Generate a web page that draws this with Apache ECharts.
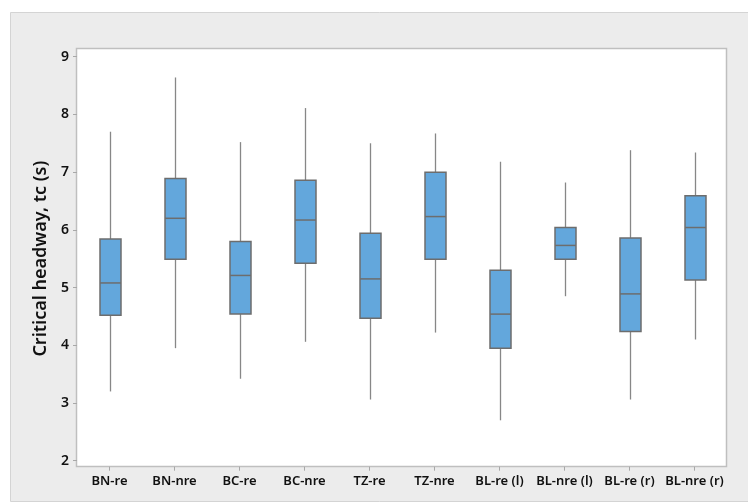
<!DOCTYPE html>
<html>
<head>
<meta charset="utf-8">
<title>Critical headway</title>
<script src="https://cdn.jsdelivr.net/npm/echarts@6/dist/echarts.min.js"></script>
<style>
  html, body { margin: 0; padding: 0; background: #ffffff; }
  #chart { width: 748px; height: 503px; }
</style>
</head>
<body>
<div id="chart"></div>
<script>
// Site / movement groups
var categories = ['BN-re', 'BN-nre', 'BC-re', 'BC-nre', 'TZ-re', 'TZ-nre', 'BL-re (l)', 'BL-nre (l)', 'BL-re (r)', 'BL-nre (r)'];

// Five-number summaries of critical headway (s)
var lowWhisker  = [3.20, 3.95, 3.42, 4.06, 3.06, 4.22, 2.70, 4.85, 3.06, 4.10];
var q1          = [4.52, 5.49, 4.54, 5.42, 4.47, 5.49, 3.95, 5.49, 4.24, 5.13];
var median      = [5.08, 6.20, 5.21, 6.17, 5.15, 6.23, 4.54, 5.73, 4.89, 6.04];
var q3          = [5.84, 6.89, 5.80, 6.86, 5.94, 7.00, 5.30, 6.04, 5.86, 6.59];
var highWhisker = [7.70, 8.64, 7.52, 8.11, 7.50, 7.67, 7.18, 6.82, 7.38, 7.34];

// Y-axis ticks
var yTicks = [2, 3, 4, 5, 6, 7, 8, 9];

var boxData = categories.map(function (c, i) {
  return [i, lowWhisker[i], q1[i], median[i], q3[i], highWhisker[i]];
});

var FONT = '"Noto Sans", "Open Sans", sans-serif';
var BOX_W = 21;

// Box with plain whiskers (no end caps)
function renderBox(params, api) {
  var x = api.value(0);
  var pLow = api.coord([x, api.value(1)]);
  var pQ1 = api.coord([x, api.value(2)]);
  var pMed = api.coord([x, api.value(3)]);
  var pQ3 = api.coord([x, api.value(4)]);
  var pHigh = api.coord([x, api.value(5)]);
  var cx = Math.round(pMed[0]) + 0.5;
  var half = BOX_W / 2;
  var whisker = { stroke: '#878787', lineWidth: 1.3 };
  var edge = '#6d6d6d';
  return {
    type: 'group',
    children: [
      { type: 'line', shape: { x1: cx, y1: pLow[1], x2: cx, y2: pQ1[1] }, style: whisker },
      { type: 'line', shape: { x1: cx, y1: pQ3[1], x2: cx, y2: pHigh[1] }, style: whisker },
      {
        type: 'rect',
        shape: { x: cx - half, y: pQ3[1], width: BOX_W, height: pQ1[1] - pQ3[1] },
        style: { fill: '#63a7dc', stroke: edge, lineWidth: 1.5 }
      },
      { type: 'line', shape: { x1: cx - half, y1: pMed[1], x2: cx + half, y2: pMed[1] }, style: { stroke: edge, lineWidth: 1.5 } }
    ]
  };
}

var chart = echarts.init(document.getElementById('chart'), null, { renderer: 'canvas' });

chart.setOption({
  animation: false,
  backgroundColor: '#ffffff',
  graphic: [
    {
      type: 'rect',
      z: -100,
      silent: true,
      shape: { x: 10.5, y: 12.5, width: 760, height: 489 },
      style: { fill: '#ececec', stroke: '#d4d4d4', lineWidth: 1 }
    },
    {
      type: 'rect',
      z: -99,
      silent: true,
      shape: { x: 76.5, y: 48.5, width: 650, height: 418 },
      style: { fill: '#ffffff', stroke: '#bfbfbf', lineWidth: 1.5 }
    }
  ],
  grid: {
    left: 77,
    top: 56.7,
    width: 650,
    height: 404,
    containLabel: false
  },
  xAxis: {
    type: 'category',
    data: categories,
    boundaryGap: true,
    offset: 6,
    axisLine: { show: false },
    axisTick: { show: true, alignWithLabel: true, length: 4, lineStyle: { color: '#a8a8a8' } },
    axisLabel: {
      margin: 8,
      interval: 0,
      fontFamily: FONT,
      fontSize: 13,
      fontWeight: 600,
      color: '#111111'
    },
    splitLine: { show: false }
  },
  yAxis: {
    type: 'value',
    min: yTicks[0],
    max: yTicks[yTicks.length - 1],
    interval: 1,
    name: 'Critical headway, tc (s)',
    nameLocation: 'middle',
    nameGap: 25,
    nameTextStyle: {
      fontFamily: FONT,
      fontSize: 18,
      fontWeight: 600,
      color: '#111111'
    },
    axisLine: { show: false },
    axisTick: { show: true, length: 4, lineStyle: { color: '#a8a8a8' } },
    axisLabel: {
      margin: 8,
      fontFamily: FONT,
      fontSize: 14,
      fontWeight: 600,
      color: '#111111'
    },
    splitLine: { show: false }
  },
  series: [
    {
      type: 'custom',
      renderItem: renderBox,
      data: boxData,
      encode: { x: 0, y: [1, 2, 3, 4, 5] },
      silent: true
    }
  ]
});
</script>
</body>
</html>
